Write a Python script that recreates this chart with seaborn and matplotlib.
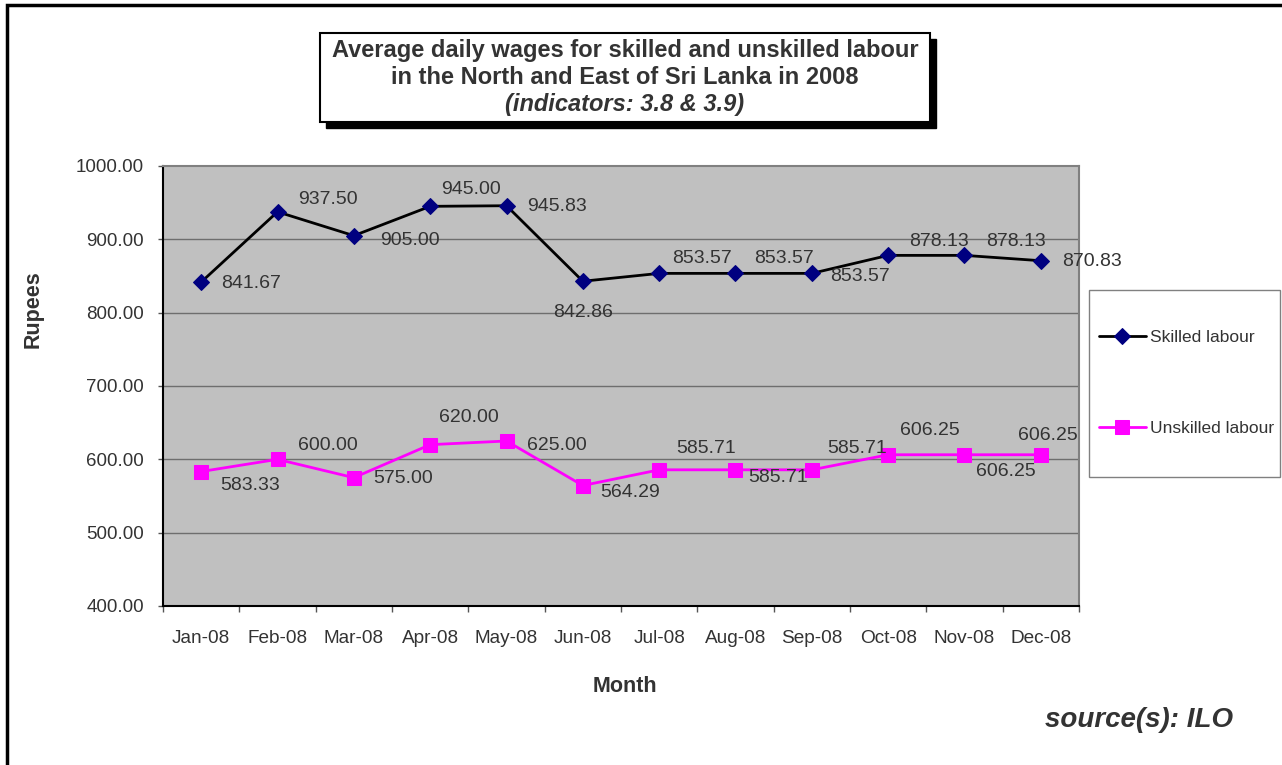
import matplotlib
matplotlib.use("Agg")
import matplotlib.pyplot as plt
from matplotlib.patches import Rectangle
import numpy as np
import pandas as pd
import seaborn as sns

# Data
months = ['Jan-08', 'Feb-08', 'Mar-08', 'Apr-08', 'May-08', 'Jun-08',
          'Jul-08', 'Aug-08', 'Sep-08', 'Oct-08', 'Nov-08', 'Dec-08']
skilled = [841.67, 937.50, 905.00, 945.00, 945.83, 842.86,
           853.57, 853.57, 853.57, 878.13, 878.13, 870.83]
unskilled = [583.33, 600.00, 575.00, 620.00, 625.00, 564.29,
             585.71, 585.71, 585.71, 606.25, 606.25, 606.25]
yticks = [400, 500, 600, 700, 800, 900, 1000]

# label offsets (pixels) so the numbers sit where they do in the original
skilled_off = [(50, -1), (50, 12), (56, -5), (41, 17), (50, -1), (0, -31),
               (43, 15), (49, 15), (48, -3), (51, 14), (52, 14), (51, -1)]
unskilled_off = [(49, -14), (50, 14), (49, -1), (39, 27), (50, -4), (47, -7),
                 (47, 21), (43, -8), (45, 21), (42, 24), (41, -17), (7, 19)]

df = pd.DataFrame({'pos': np.arange(len(months)), 'Month': months,
                   'Skilled labour': skilled, 'Unskilled labour': unskilled})

sns.set_theme(style='white')
plt.rcParams['font.family'] = ['Liberation Sans', 'DejaVu Sans']
txt = '#333333'

W, H = 1282, 765
fig = plt.figure(figsize=(W / 100, H / 100), dpi=100)
fig.patch.set_facecolor('white')

ax = fig.add_axes([163 / W, 1 - 606 / H, (1079 - 163) / W, (606 - 166) / H])
ax.set_facecolor('#c0c0c0')

ax.grid(False)
for v in yticks[1:-1]:
    ax.axhline(v, color='#6e6e6e', lw=1.0, zorder=0)

sns.lineplot(data=df, x='pos', y='Skilled labour', ax=ax, color='black', lw=2,
             marker='D', markersize=8, markerfacecolor='#000080',
             markeredgecolor='#000080', label='Skilled labour', sort=False)
sns.lineplot(data=df, x='pos', y='Unskilled labour', ax=ax, color='#ff00ff', lw=2,
             marker='s', markersize=9.5, markerfacecolor='#ff00ff',
             markeredgecolor='#ff00ff', label='Unskilled labour', sort=False)

for i, v in enumerate(skilled):
    ax.annotate(f'{v:.2f}', (i, v), xytext=skilled_off[i], textcoords='offset pixels',
                ha='center', va='center', fontsize=14, color=txt)
for i, v in enumerate(unskilled):
    ax.annotate(f'{v:.2f}', (i, v), xytext=unskilled_off[i], textcoords='offset pixels',
                ha='center', va='center', fontsize=14, color=txt)

ax.set_xlim(-0.5, len(months) - 0.5)
ax.set_ylim(400, 1000)
ax.set_yticks(yticks)
ax.set_yticklabels([f'{v:.2f}' for v in yticks])
ax.set_xticks(np.arange(len(months)))
ax.set_xticklabels(months)
ax.set_xticks(np.arange(len(months) + 1) - 0.5, minor=True)
ax.tick_params(axis='x', which='major', length=0, pad=17, labelsize=13.7, labelcolor=txt)
ax.tick_params(axis='x', which='minor', bottom=True, length=4.5, width=1, color='#555555')
ax.tick_params(axis='y', left=True, length=3.6, width=1, pad=10, labelsize=13.5,
               labelcolor=txt, color='#555555')

for s in ['top', 'right']:
    ax.spines[s].set_color('#808080')
    ax.spines[s].set_linewidth(1.5)
for s in ['left', 'bottom']:
    ax.spines[s].set_color('black')
    ax.spines[s].set_linewidth(1.5)

ax.set_xlabel('')
ax.set_ylabel('')
fig.text(33 / W, 1 - 309 / H, 'Rupees', rotation=90, ha='center', va='center',
         fontsize=15.5, fontweight='bold', color=txt)
fig.text(625 / W, 1 - 686 / H, 'Month', ha='center', va='center',
         fontsize=15.5, fontweight='bold', color=txt)

# legend with its own box
ax.get_legend().remove()
fig.add_artist(Rectangle((1089 / W, 1 - 477 / H), (1280 - 1089) / W, (477 - 290) / H,
                         transform=fig.transFigure, facecolor='white',
                         edgecolor='#808080', lw=1))
handles, labels = ax.get_legend_handles_labels()
fig.legend(handles, labels, loc='center left', bbox_to_anchor=(1090 / W, 1 - 383 / H),
           frameon=False, fontsize=12.5, labelspacing=4.4, handlelength=2.7,
           handletextpad=0.25, borderpad=0, labelcolor=txt)

# title box with shadow
fig.add_artist(Rectangle((326 / W, 1 - 128 / H), (930 - 320) / W, (122 - 33) / H,
                         transform=fig.transFigure, facecolor='black', edgecolor='black'))
fig.add_artist(Rectangle((320 / W, 1 - 122 / H), (930 - 320) / W, (122 - 33) / H,
                         transform=fig.transFigure, facecolor='white',
                         edgecolor='black', lw=1.5))
fig.text(625 / W, 1 - 51 / H, 'Average daily wages for skilled and unskilled labour',
         ha='center', va='center', fontsize=17, fontweight='bold', color=txt)
fig.text(625 / W, 1 - 78 / H, 'in the North and East of Sri Lanka in 2008',
         ha='center', va='center', fontsize=17, fontweight='bold', color=txt)
fig.text(625 / W, 1 - 104 / H, '(indicators: 3.8 & 3.9)',
         ha='center', va='center', fontsize=17, fontweight='bold', style='italic', color=txt)

fig.text(1233 / W, 1 - 720 / H, 'source(s): ILO', ha='right', va='center',
         fontsize=20, fontweight='bold', style='italic', color=txt)

# outer frame
fig.add_artist(Rectangle((7 / W, -0.05), 1.2, 1 - 5 / H + 0.05, transform=fig.transFigure,
                         facecolor='none', edgecolor='black', lw=2.5))

fig.savefig('out.png', dpi=100)
